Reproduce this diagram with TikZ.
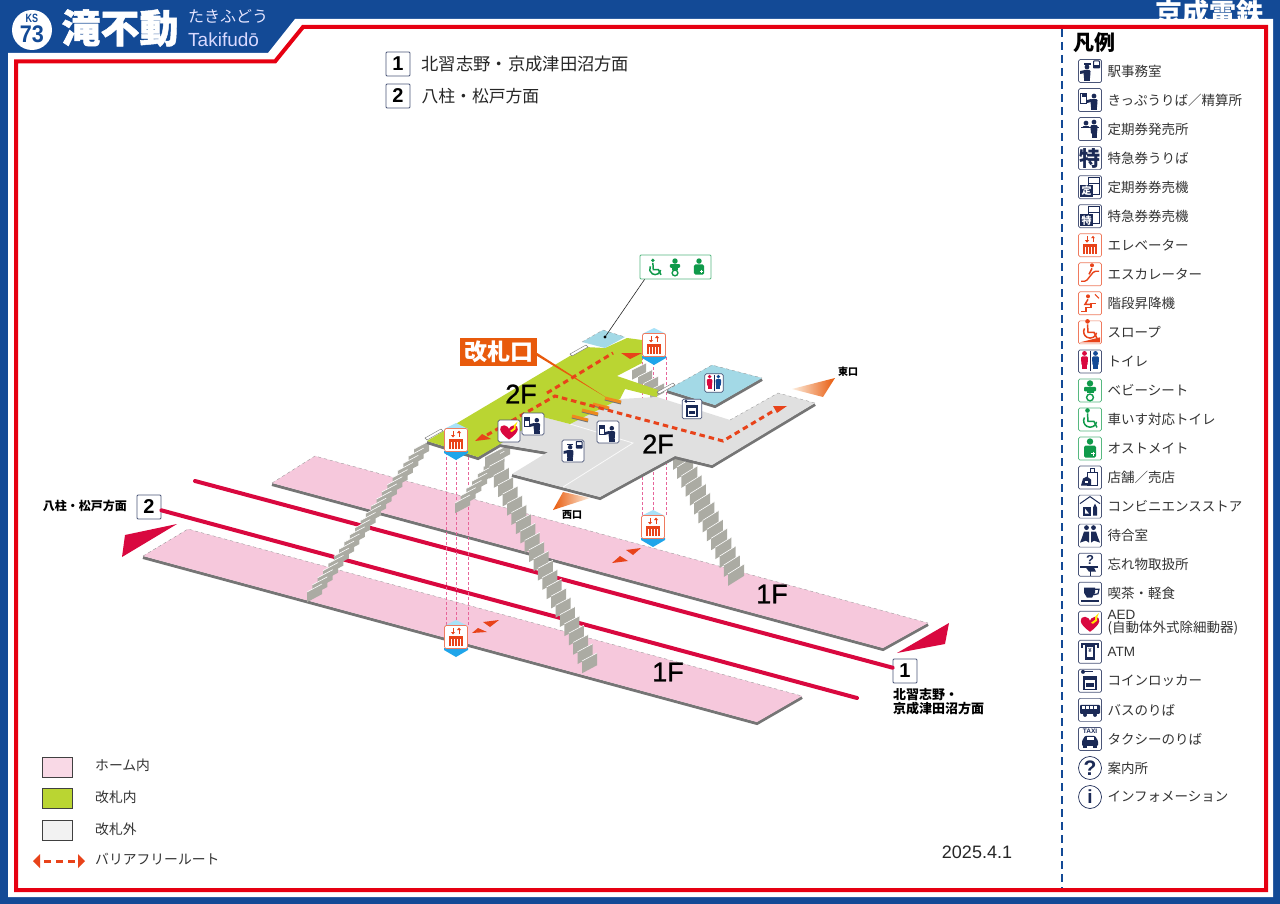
\documentclass[tikz,border=0pt]{standalone}
\usepackage{fontspec}
\setmainfont{Noto Sans CJK JP}
\newfontfamily\latinfont{Liberation Sans}
\newfontfamily\floorfont[FakeBold=1]{Liberation Sans}
\newfontfamily\headfont[FakeBold=1.2]{Noto Sans CJK JP}
\usetikzlibrary{positioning,calc}

\definecolor{keiseiblue}{HTML}{134A96}
\definecolor{keiseired}{HTML}{E60012}
\definecolor{trackred}{HTML}{D9083F}
\definecolor{pinkfloor}{HTML}{F6C8DC}
\definecolor{greenfloor}{HTML}{BAD532}
\definecolor{grayfloor}{HTML}{E0E0E0}
\definecolor{wallgray}{HTML}{757575}
\definecolor{stepgray}{HTML}{ABABA3}
\definecolor{roomblue}{HTML}{A3D9E6}
\definecolor{iconnavy}{HTML}{1B2A56}
\definecolor{iconline}{HTML}{4A5578}
\definecolor{evorange}{HTML}{E8431A}
\definecolor{icongreen}{HTML}{0F9A4A}
\definecolor{labelorange}{HTML}{E85A0C}
\definecolor{gateorange}{HTML}{EE8A1E}
\definecolor{shaftpink}{HTML}{E7659A}
\definecolor{captop}{HTML}{A9E2F8}
\definecolor{capbottom}{HTML}{1FA5EA}

\newcommand\sz[1]{\fontsize{#1}{#1}\selectfont}
% small figure, head at (x,y)
\newcommand\manat[3][iconnavy]{\fill[#1] (#2,#3) circle (2.4pt);
  \fill[#1,rounded corners=1.2pt] (#2-3.6,#3+3) -- ++(7.2,0) -- ++(-.6,9) -- ++(-6,0) -- cycle;}
% one flight: top corner, bottom corner, step width, number of steps
\newcommand\stairs[7]{\foreach \i in {0,...,#7}{
    \pgfmathsetmacro\px{#1+(#3-#1)*\i/#7}
    \pgfmathsetmacro\py{#2+(#4-#2)*\i/#7}
    \pgfmathsetmacro\hh{(#4-#2)/#7+3}
    \fill[stepgray] (\px,\py) -- ++(#5,#6) -- ++(0,\hh) -- ++(-#5,-#6) -- cycle;
    \draw[white,line width=.6] (\px,\py) -- ++(#5,#6);}}
\newcommand\iconat[5][navybox]{\node[#1,scale=#5,transform shape] (#2) at (#3) {};
  \pic[scale=#5,transform shape] at (#3) {#4};}
\newcommand\elevtower[3]{
  \fill[captop] (#2-12,#3-11) -- (#2,#3-17) -- (#2+12,#3-11) -- cycle;
  \fill[capbottom] (#2-12,#3+11) -- (#2-12,#3+13) -- (#2,#3+20) -- (#2+12,#3+13) -- (#2+12,#3+11) -- cycle;
  \iconat[orangebox]{#1}{#2,#3}{elev}{1}}

\tikzset{
  navybox/.style={draw=iconline,fill=white,line width=.7,rounded corners=1.5,minimum size=23,inner sep=0},
  orangebox/.style={navybox,draw=evorange!70},
  greenbox/.style={navybox,draw=icongreen!70},
  roundbox/.style={navybox,circle,draw=iconnavy},
  legendtext/.style={font=\sz{13.5},text=black!80,inner sep=0,align=left},
  keytext/.style={font=\sz{13.8},text=black!80,inner sep=0},
  swatch/.style={draw=black!75,line width=.7,minimum width=30,minimum height=20,inner sep=0},
  dirbox/.style={draw=iconline,fill=white,line width=.8,rounded corners=1,minimum size=24,inner sep=0,font=\latinfont\bfseries\sz{20}},
  floorlabel/.style={font=\floorfont\sz{27},inner sep=0},
  track/.style={draw=trackred,line width=4,line cap=round},
  wall/.style={draw=wallgray,line width=3,yshift=-1.5pt},
  edgeline/.style={draw=black!45,dashed,line width=.3},
  shaft/.style={draw=shaftpink,densely dashed,line width=.6},
  route/.style={draw=evorange,line width=3,dash pattern=on 5.5pt off 4pt},
  stationname/.style={font=\sz{13}\bfseries,inner sep=0,align=left},
  pics/elev/.style={code={
    \draw[evorange,line width=1] (-3,-9) -- (-3,-4); \fill[evorange] (-5,-5) -- (-1,-5) -- (-3,-2.5) -- cycle;
    \draw[evorange,line width=1] (3,-7) -- (3,-3); \fill[evorange] (1,-7) -- (5,-7) -- (3,-9.5) -- cycle;
    \fill[evorange] (-7,-1) rectangle (7,9);
    \foreach \s in {-4.2,-1.4,1.4,4.2} {\draw[white,line width=.8] (\s,2) -- (\s,9);}}},
  pics/staff/.style={code={\manat{-3}{-4}\fill[iconnavy] (-6.5,-7.5) rectangle (.5,-6);
    \fill[iconnavy] (-10,0) -- (-5,-1) -- (-5,2) -- (-10,3) -- cycle; \fill[iconnavy] (-6,7) rectangle (0,10);
    \draw[iconnavy,line width=1,rounded corners=.6] (3.5,-10) rectangle (9.5,-3); \fill[iconnavy] (4,-6) rectangle (9,-3);}},
  pics/ticket/.style={code={\draw[iconnavy,line width=.9] (-9.5,-7) rectangle (-3.5,3); \fill[iconnavy] (-8.5,-6) rectangle (-4.5,-3);
    \manat{4}{-4}\fill[iconnavy] (-3,0) -- (1,-1) -- (1,2) -- (-3,3) -- cycle; \fill[iconnavy] (1,7) rectangle (7,10);}},
  pics/teiki/.style={code={\manat{-4}{-6}\fill[white] (-9,-2) rectangle (0,8); \manat{4}{-7}\fill[iconnavy] (1.5,4) rectangle (6.5,9);
    \fill[iconnavy] (-9,-2.5) rectangle (9,-1);}},
  pics/tokubig/.style={code={\node[inner sep=0,font=\bfseries\sz{21},text=iconnavy] (glyphA) {特};}},
  pics/teikimachine/.style={code={\draw[iconnavy,line width=.8] (-2,-10) rectangle (9,7); \draw[iconnavy,line width=.8] (-2,-4) -- (9,-4);
    \fill[iconnavy] (-10,-2) rectangle (3,10); \node[inner sep=0,text=white,font=\bfseries\sz{10}] (glyphB) at (-3.5,4) {定};}},
  pics/tokumachine/.style={code={\draw[iconnavy,line width=.8] (-2,-10) rectangle (9,7); \draw[iconnavy,line width=.8] (-2,-4) -- (9,-4);
    \fill[iconnavy] (-10,-2) rectangle (3,10); \node[inner sep=0,text=white,font=\bfseries\sz{10}] (glyphC) at (-3.5,4) {特};}},
  pics/escal/.style={code={\draw[evorange,line width=1.4,rounded corners=1.5] (-9,7) -- (-4,7) -- (4,-3) -- (9,-3);
    \fill[evorange] (2,-9) circle (2pt); \draw[evorange,line width=1.6] (2,-6) -- (-1,0);}},
  pics/stairlift/.style={code={\draw[evorange,line width=1.3] (-9,8) -- (-4,8) -- (-4,4) -- (1,4) -- (1,0) -- (6,0);
    \fill[evorange] (-2,-7) circle (2pt); \draw[evorange,line width=1.5] (-2,-4) -- (-5,1) -- (0,1);
    \draw[evorange,line width=1] (5,-9) -- (9,-5);}},
  pics/wheel/.style={code={\fill (-2.5,-9) circle (2.3pt); \draw[line width=1.5] (-2.5,-6) -- (-2,2) -- (4,2) -- (7,8);
    \draw[line width=1.5] (-5.5,-2) arc[start angle=150,end angle=350,radius=6.5pt];}},
  pics/slope/.style={code={\begin{scope}[evorange,yshift=2pt]\pic {wheel};\end{scope}\fill[evorange] (-10,10) -- (10,10) -- (10,5) -- cycle;}},
  pics/toilet/.style={code={\manat[trackred]{-5.5}{-8}\fill[trackred] (-8,3) rectangle (-3,8);\manat[keiseiblue]{5.5}{-8}\fill[keiseiblue] (3,3) rectangle (8,8);
    \draw[iconnavy,line width=1] (0,-10) -- (0,10);}},
  pics/baby/.style={code={\fill[icongreen] (0,-7) circle (3.2pt); \fill[icongreen,rounded corners=1] (-6,-3.5) rectangle (6,1);
    \fill[icongreen] (-3.5,1) rectangle (3.5,3); \draw[icongreen,line width=1.4] (0,7) circle (3.4pt);}},
  pics/ostomate/.style={code={\fill[icongreen] (0,-7) circle (3.2pt); \fill[icongreen,rounded corners=1.5] (-6,-3) rectangle (6,9);
    \draw[white,line width=.9] (1,5) -- (5,5) (3,3) -- (3,7);}},
  pics/shop/.style={code={\draw[iconnavy,line width=.9] (-3,-5) rectangle (7,8); \draw[iconnavy,line width=.9] (0,-5) -- (0,-9) -- (4,-9) -- (4,-5);
    \fill[iconnavy] (-9,8) -- (-7,1) -- (-3,-1) -- (1,2) -- (1,8) -- cycle; \fill[white] (-5,3) rectangle (-2,5);}},
  pics/cvs/.style={code={\draw[iconnavy,line width=1] (-10,-3) -- (0,-10) -- (10,-3); \fill[iconnavy] (-7,0) -- (1,0) -- (1,9) -- (-7,9) -- cycle;
    \fill[white] (-5,2) -- (-1,7) -- (-5,7) -- cycle; \fill[iconnavy] (3,1) -- (5,-3) -- (7,1) -- (7,9) -- (3,9) -- cycle;}},
  pics/waiting/.style={code={\fill[iconnavy] (-3.5,-8) circle (2.4pt); \fill[iconnavy] (3.5,-8) circle (2.4pt);
    \fill[iconnavy] (-10,7) -- (-8,2) -- (-6,-4) -- (-1,-4) -- (-1,2) -- (-1,7) -- (-4,5) -- cycle;
    \fill[iconnavy] (10,7) -- (8,2) -- (6,-4) -- (1,-4) -- (1,2) -- (1,7) -- (4,5) -- cycle;}},
  pics/lost/.style={code={\node[inner sep=0,font=\bfseries\latinfont\sz{13},text=iconnavy] (glyphD) at (0,-5) {?};
    \fill[iconnavy] (-10,1) rectangle (8,3); \fill[iconnavy] (-4,3) -- (4,3) -- (6,7) -- (-1,7) -- cycle; \draw[iconnavy,line width=1] (0,6) -- (0,11);}},
  pics/cafe/.style={code={\fill[iconnavy] (-6,-6) -- (5,-6) -- (5,-1) -- (2,4) -- (-3,4) -- (-6,-1) -- cycle;
    \draw[iconnavy,line width=1.2] (5,-4.5) -- (9,-4.5) -- (8,0) -- (4,1); \fill[iconnavy] (-9,6) rectangle (9,8);}},
  pics/aed/.style={code={\fill[trackred] (0,9) .. controls (-12,1) and (-11,-6) .. (-5,-6) .. controls (-2,-6) and (0,-3) .. (0,-2) .. controls (0,-3) and (2,-6) .. (5,-6) .. controls (11,-6) and (12,1) .. (0,9) -- cycle;
    \fill[yellow!90!orange] (1,0) -- (5,-3) -- (5,-6) -- (9,-10) -- (7,-5) -- (7,-2) -- (3,1) -- cycle;}},
  pics/atm/.style={code={\draw[iconnavy,line width=1.5] (-9,-8) -- (9,-8); \fill[iconnavy] (-5,-8) -- (5,-8) -- (5,8) -- (-5,8) -- cycle;
    \fill[white] (-3,-5) rectangle (3,5); \node[inner sep=0,font=\latinfont\bfseries\sz{6},text=iconnavy] (glyphE) at (0,-1) {¥};
    \fill[iconnavy] (-9,-8) rectangle (-7,-4); \fill[iconnavy] (7,-8) rectangle (9,-4);}},
  pics/locker/.style={code={\fill[iconnavy] (-7,-9) circle (2pt); \draw[iconnavy,line width=1.2] (-7,-9) -- (3,-9);
    \draw[iconnavy,line width=1.3] (-6,-4) rectangle (6,9); \fill[iconnavy] (-6,-4) rectangle (6,-1); \fill[iconnavy] (-4,2) rectangle (4,6);}},
  pics/bus/.style={code={\fill[iconnavy,rounded corners=1] (-10,-5) rectangle (10,4); \foreach \s in {-8,-4,0,4} {\fill[white] (\s,-3.5) rectangle (\s+3,-.5);}
    \fill[iconnavy] (-5,5) circle (2pt); \fill[iconnavy] (5,5) circle (2pt);}},
  pics/taxi/.style={code={\node[inner sep=0,font=\latinfont\bfseries\sz{6.5},text=iconnavy] (glyphF) at (0,-7.5) {TAXI};
    \fill[iconnavy,rounded corners=1] (-8,2) -- (-5,-3) -- (5,-3) -- (8,2) -- (8,7) -- (-8,7) -- cycle; \fill[white] (-3.5,-1.5) rectangle (3.5,1.5);
    \fill[iconnavy] (-7,7) rectangle (-3,9); \fill[iconnavy] (3,7) rectangle (7,9);}},
  pics/askmark/.style={code={\node[inner sep=0,font=\latinfont\bfseries\sz{21},text=iconnavy] (glyphG) {?};}},
  pics/infomark/.style={code={\node[inner sep=0,font=\latinfont\bfseries\sz{19},text=iconnavy] (glyphH) {i};}},
  pics/wheelg/.style={code={\begin{scope}[icongreen]\pic {wheel};\end{scope}}},
}

\begin{document}
\begin{tikzpicture}[x=1pt,y=-1pt]
  \useasboundingbox (0,0) rectangle (1280,904);
  % frame
  \fill[keiseiblue] (0,0) rectangle (1280,904);
  \node[inner sep=0,text=white,font=\bfseries\sz{27}] (railname) at (1209,13) {京成電鉄};
  \fill[white] (8,53) -- (268,53) -- (295,19) -- (1273,19) -- (1273,897) -- (8,897) -- cycle;
  \draw[keiseired,line width=4] (16,61.5) -- (275,61.5) -- (303,27) -- (1266,27) -- (1266,890) -- (16,890) -- cycle;
  % header
  \node[circle,fill=white,minimum size=40,inner sep=0] (badge) at (32,30) {};
  \node[inner sep=0,text=keiseiblue,font=\latinfont\bfseries\sz{12},xscale=.75,transform shape] (badgeks) at (32,18) {KS};
  \node[inner sep=0,text=keiseiblue,font=\latinfont\bfseries\sz{24},xscale=.9,transform shape] (badgeno) at (32,34) {73};
  \node[inner sep=0,text=white,font=\headfont\bfseries\sz{39}] (stationkanji) at (120,28) {滝不動};
  \node[inner sep=0,text=white!90!blue,font=\sz{16},anchor=west] (stationkana) at (188,16) {たきふどう};
  \node[inner sep=0,text=white!85!blue,font=\latinfont\sz{19},anchor=west] (stationroman) at (188,40) {Takifudō};
  % direction list
  \node[dirbox] (topone) at (398,64) {1};
  \node[inner sep=0,font=\sz{17.3},text=black!85,right=11pt of topone] (toponetext) {北習志野・京成津田沼方面};
  \node[dirbox] (toptwo) at (398,96) {2};
  \node[inner sep=0,font=\sz{16.8},text=black!85,right=11pt of toptwo] (toptwotext) {八柱・松戸方面};
  % legend column
  \coordinate (sepa) at (1062,29);
  \coordinate (sepb) at (1062,888);
  \draw[keiseiblue,line width=1.2,dash pattern=on 8pt off 5pt] (sepa) -- (sepb);
  \node[inner sep=0,anchor=west,font=\bfseries\sz{21}] (legendtitle) at (1073,43) {凡例};
  \foreach \i/\ico/\kd/\tx in {
    1/staff/navybox/駅事務室,
    2/ticket/navybox/きっぷうりば／精算所,
    3/teiki/navybox/定期券発売所,
    4/tokubig/navybox/特急券うりば,
    5/teikimachine/navybox/定期券券売機,
    6/tokumachine/navybox/特急券券売機,
    7/elev/orangebox/エレベーター,
    8/escal/orangebox/エスカレーター,
    9/stairlift/orangebox/階段昇降機,
    10/slope/orangebox/スロープ,
    11/toilet/navybox/トイレ,
    12/baby/greenbox/ベビーシート,
    13/wheelg/greenbox/車いす対応トイレ,
    14/ostomate/greenbox/オストメイト,
    15/shop/navybox/店舗／売店,
    16/cvs/navybox/コンビニエンスストア,
    17/waiting/navybox/待合室,
    18/lost/navybox/忘れ物取扱所,
    19/cafe/navybox/喫茶・軽食,
    20/aed/navybox/{{\latinfont AED}\\(自動体外式除細動器)},
    21/atm/navybox/{\latinfont ATM},
    22/locker/navybox/コインロッカー,
    23/bus/navybox/バスのりば,
    24/taxi/navybox/タクシーのりば,
    25/askmark/roundbox/案内所,
    26/infomark/roundbox/インフォメーション}
  {
    \pgfmathsetmacro\ly{71+29.04*(\i-1)}
    \node[\kd] (leg\i) at (1090,\ly) {};
    \pic at (1090,\ly) {\ico};
    \node[legendtext,right=5.5pt of leg\i] (legtx\i) {\tx};
  }
  % floor key
  \node[swatch,fill=pinkfloor!70!white] (keyhome) at (57,767) {};
  \node[keytext,anchor=west] (keyhometext) at (95,765) {ホーム内};
  \node[swatch,fill=greenfloor] (keygate) at (57,798) {};
  \node[keytext,anchor=west] (keygatetext) at (95,797) {改札内};
  \node[swatch,fill=black!5] (keyout) at (57,830) {};
  \node[keytext,anchor=west] (keyouttext) at (95,829) {改札外};
  \coordinate (keyroutea) at (44,861);
  \coordinate (keyrouteb) at (77,861);
  \draw[route,dash pattern=on 7pt off 5pt] (keyroutea) -- (keyrouteb);
  \fill[evorange] (33,861) -- (40,854) -- (40,868) -- cycle;
  \fill[evorange] (85,861) -- (78,854) -- (78,868) -- cycle;
  \node[keytext,anchor=west] (keyroutetext) at (95,859) {バリアフリールート};
  \node[inner sep=0,font=\latinfont\sz{18},text=black!85] (issuedate) at (977,852) {2025.4.1};
  % platforms
  \draw[wall] (272,483) -- (883,648) -- (928,623);
  \fill[pinkfloor] (315,456) -- (272,483) -- (883,648) -- (928,623) -- cycle;
  \draw[edgeline] (272,483) -- (315,456) -- (928,623);
  \draw[wall] (143,556) -- (757,722) -- (802,696);
  \fill[pinkfloor] (188,529) -- (143,556) -- (757,722) -- (802,696) -- cycle;
  \draw[edgeline] (143,556) -- (188,529) -- (802,696);
  % tracks and direction boxes
  \node[dirbox] (boxone) at (905,671) {1};
  \node[dirbox] (boxtwo) at (149,507) {2};
  \coordinate (trackaend) at (195,481);
  \coordinate (trackbend) at (857,698);
  \draw[track] (trackaend) -- (boxone);
  \draw[track] (trackbend) -- (boxtwo);
  \fill[trackred] (177,524) -- (125,535) -- (122,557) -- cycle;
  \fill[trackred] (897,653) -- (949,623) -- (945,644) -- cycle;
  \node[stationname,anchor=north west] (boxonetext) at (893,688) {北習志野・\\[1pt]京成津田沼方面};
  \node[font=\sz{12}\bfseries,inner sep=0,anchor=east] (boxtwotext) at (127,506) {八柱・松戸方面};
  % lift shafts
  \foreach \sx in {446,456,468} {\draw[shaft] (\sx,452) -- (\sx,626);}
  \foreach \sx in {642,653,666} {\draw[shaft] (\sx,357) -- (\sx,515);}
  % stairs
  \stairs{414}{449}{307}{592}{15}{-8}{20}
  \stairs{495}{452}{455}{503}{15}{-8}{7}
  \stairs{485}{457}{582}{661}{15}{-8}{22}
  \stairs{673}{458}{728}{574}{16}{-10}{13}
  \stairs{632}{370}{650}{390}{14}{-7}{3}
  % concourse
  \draw[wall] (427,441) -- (478,457) -- (500,444) -- (548,452);
  \draw[wall] (512,474) -- (600,497) -- (675,456) -- (712,465) -- (815,403);
  \fill[grayfloor] (543,417) -- (570,424) -- (620,399) -- (657,397) -- (730,420) -- (778,393) -- (815,403) -- (712,465) -- (675,456) -- (600,497) -- (512,474) -- (548,452) -- (500,444) -- cycle;
  \draw[white!95!gray,line width=.8] (570,424) -- (633,443) -- (563,487);
  \draw[edgeline] (730,420) -- (778,393) -- (815,403);
  \fill[greenfloor] (427,441) -- (585,347) -- (605,348) -- (627,338) -- (642,340) -- (642,363) -- (617,376) -- (658,390) -- (657,397) -- (625,389) -- (620,399) -- (570,424) -- (543,417) -- (500,444) -- (478,457) -- cycle;
  % rooms
  \fill[roomblue] (582,342) -- (603,330) -- (625,337) -- (605,348) -- cycle;
  \draw[edgeline] (582,342) -- (603,330) -- (625,337);
  \draw[wall] (667,390) -- (715,405) -- (762,378);
  \fill[roomblue] (667,390) -- (712,365) -- (762,378) -- (715,405) -- cycle;
  \draw[edgeline] (667,390) -- (712,365) -- (762,378);
  % landings
  \foreach \ax/\ay in {425/438,570/354,657/392} {
    \draw[wallgray,fill=white,line width=.4] (\ax,\ay) -- ++(16,-9) -- ++(2,2) -- ++(-16,9) -- cycle;}
  % gate label leader
  \node[fill=labelorange,text=white,font=\bfseries\sz{23},minimum width=77,minimum height=28,inner sep=0] (gatesign) at (498.5,352) {改札口};
  \coordinate (gatepoint) at (607,398);
  \fill[labelorange] ($(gatesign.east)+(0,1)$) -- ($(gatesign.east)+(0,4)$) -- (gatepoint) -- cycle;
  % gates
  \foreach \gx/\gy in {613/400,601/406,590/412,580/418} {
    \draw[wallgray,line width=3] (\gx-8,\gy-1) -- (\gx+8,\gy+3);
    \draw[gateorange,line width=3] (\gx-8,\gy-2) -- (\gx+8,\gy+2);}
  % barrier free route
  \draw[route] (487,435) -- (555,396) -- (723,441) -- (775,410);
  \draw[route] (547,393) -- (613,353);
  \fill[evorange] (475,441) -- (482,434) -- (491,439) -- cycle;
  \fill[evorange] (642,353) -- (621,353) -- (630,359) -- cycle;
  \fill[evorange] (787,406) -- (773,406) -- (777,413) -- cycle;
  \fill[evorange] (472,633) -- (487,632) -- (478,628) -- cycle;
  \fill[evorange] (499,620) -- (483,622) -- (490,627) -- cycle;
  \fill[evorange] (612,563) -- (628,561) -- (620,556) -- cycle;
  \fill[evorange] (641,548) -- (626,550) -- (633,555) -- cycle;
  % exits
  \shade[left color=gateorange!15!white,right color=labelorange] (835,378) -- (792,389) -- (823,397) -- cycle;
  \shade[left color=labelorange,right color=gateorange!15!white] (553,510) -- (563,492) -- (590,498) -- cycle;
  \node[font=\sz{10}\bfseries,inner sep=0] (eastexit) at (848,372) {東口};
  \node[font=\sz{10}\bfseries,inner sep=0] (westexit) at (572,515) {西口};
  % floor names
  \node[floorlabel] (floorA) at (521,394) {2F};
  \node[floorlabel] (floorB) at (658,444) {2F};
  \node[floorlabel] (floorC) at (772,594) {1F};
  \node[floorlabel] (floorD) at (668,672) {1F};
  % lifts
  \elevtower{lifta}{654}{345}
  \elevtower{liftb}{456}{440}
  \elevtower{liftc}{653}{527}
  \elevtower{liftd}{456}{637}
  % facilities
  \iconat{icontoilet}{714,383}{toilet}{.8}
  \iconat{iconlocker}{692,409}{locker}{.85}
  \iconat{iconstaff}{573,451}{staff}{.95}
  \iconat{iconticketa}{533,424}{ticket}{.95}
  \iconat{iconticketb}{608,432}{ticket}{.95}
  \iconat{iconaed}{509,431}{aed}{.95}
  % toilet sign
  \node[draw=icongreen!70,fill=white,line width=.8,rounded corners=1,minimum width=71,minimum height=24,inner sep=0] (wcsign) at (675.5,267) {};
  \pic[scale=.85,transform shape] at (655,268) {wheelg};
  \pic[scale=.85,transform shape] at (675,267) {baby};
  \pic[scale=.85,transform shape] at (699,267) {ostomate};
  \coordinate (wcroom) at (605,337);
  \draw[black!85,line width=.6] (wcsign.south west) ++(5,0) -- (wcroom);
  \fill[black] (wcroom) circle (1.6pt);
\end{tikzpicture}
\end{document}
